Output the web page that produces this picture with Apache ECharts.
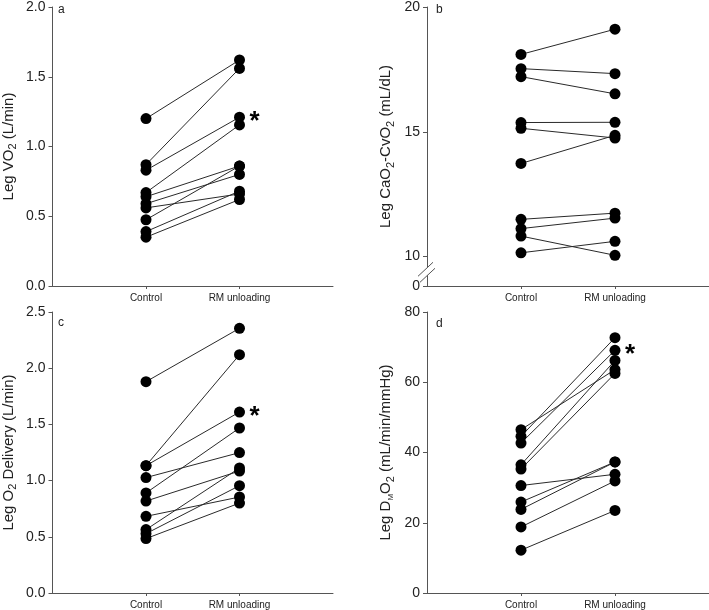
<!DOCTYPE html>
<html>
<head>
<meta charset="utf-8">
<script src="https://cdn.jsdelivr.net/npm/echarts@6/dist/echarts.min.js"></script>
<style>
html,body{margin:0;padding:0;background:#fff;}
#chart{width:709px;height:610px;}
</style>
</head>
<body>
<div id="chart"></div>
<script>
// ---- data ----
const categories = ['Control', 'RM unloading'];
const panelLetters = ['a', 'b', 'c', 'd'];

// a: Leg VO2 (L/min)
const vo2Control   = [1.20, 0.87, 0.83, 0.67, 0.64, 0.59, 0.56, 0.475, 0.39, 0.35];
const vo2Unloading = [1.62, 1.56, 1.21, 1.155, 0.86, 0.80, 0.66, 0.86, 0.68, 0.62];

// b: Leg CaO2-CvO2 (mL/dL)
const avdControl   = [18.10, 17.53, 17.21, 15.37, 15.14, 13.73, 11.49, 11.12, 10.82, 10.15];
const avdUnloading = [19.11, 17.33, 16.52, 15.38, 14.75, 14.86, 11.74, 11.54, 10.05, 10.61];

// c: Leg O2 Delivery (L/min)
const do2Control   = [1.88, 1.133, 1.133, 1.027, 0.89, 0.818, 0.682, 0.564, 0.528, 0.484];
const do2Unloading = [2.355, 2.12, 1.61, 1.249, 1.468, 1.085, 0.854, 1.112, 0.955, 0.80];

// d: Leg DMO2 (mL/min/mmHg)
const dmControl    = [46.5, 44.6, 42.7, 36.5, 35.3, 30.6, 25.9, 23.8, 18.8, 12.2];
const dmUnloading  = [63.6, 72.7, 69.1, 66.2, 62.5, 33.8, 37.3, 37.3, 31.9, 23.5];

// significance markers (RM unloading level)
const starA = 1.21;
const starC = 1.61;
const starD = 69.1;

// y-axis ticks
const ticksA = [0, 0.5, 1.0, 1.5, 2.0];
const ticksB = [10, 15, 20];
const ticksC = [0, 0.5, 1.0, 1.5, 2.0, 2.5];
const ticksD = [0, 20, 40, 60, 80];
const breakMinB = 8.82;  // axis start drawn as "0" after the break

// ---- chart ----
const FONT = '"Liberation Sans", Arial, sans-serif';
const AX = '#555';
const chart = echarts.init(document.getElementById('chart'));

const grids = [
  {left: 50, top: 5, width: 283, height: 281},
  {left: 427, top: 5, width: 282, height: 281},
  {left: 50, top: 312, width: 283, height: 281},
  {left: 427, top: 312, width: 282, height: 281}
];

const xAxes = grids.map((g, i) => ({
  type: 'value', gridIndex: i, min: 0, max: 3, interval: 1,
  splitLine: {show: false},
  axisLine: {show: true, onZero: false, lineStyle: {color: AX, width: 1}},
  axisTick: {show: true, customValues: [1, 2], length: 3, lineStyle: {color: AX}},
  axisLabel: {
    customValues: [1, 2], fontFamily: FONT, fontSize: 10, color: '#222', margin: 7,
    formatter: v => categories[Math.round(v) - 1] || ''
  }
}));

const rich = {
  m: {fontFamily: FONT, fontSize: 15, color: '#222'},
  s: {fontFamily: FONT, fontSize: 11, color: '#222', padding: [9, 0, 0, 0]},
  ss: {fontFamily: FONT, fontSize: 8, color: '#222', padding: [9, 0, 0, 0]}
};
function yAx(i, name, min, max, ticks, fmt, gap) {
  return {
    type: 'value', gridIndex: i, min: min, max: max,
    name: name, nameLocation: 'middle', nameGap: gap, nameRotate: 90, nameMoveOverlap: false,
    nameTextStyle: {rich: rich, fontFamily: FONT, fontSize: 15, color: '#222'},
    splitLine: {show: false},
    axisLine: {show: true, onZero: false, lineStyle: {color: AX, width: 1}},
    axisTick: {show: true, customValues: ticks, length: 4, lineStyle: {color: AX}},
    axisLabel: {customValues: ticks, fontFamily: FONT, fontSize: 14, color: '#222', margin: 7, formatter: fmt}
  };
}
const yAxes = [
  yAx(0, '{m|Leg VO}{s|2}{m| (L/min)}', 0, 2, ticksA, v => v.toFixed(1), 34),
  yAx(1, '{m|Leg CaO}{s|2}{m|-CvO}{s|2}{m| (mL/dL)}', breakMinB, 20, [breakMinB].concat(ticksB),
      v => (v < 9.5 ? '0' : String(Math.round(v))), 31),
  yAx(2, '{m|Leg O}{s|2}{m| Delivery (L/min)}', 0, 2.5, ticksC, v => v.toFixed(1), 34),
  yAx(3, '{m|Leg D}{ss|M}{m|O}{s|2}{m| (mL/min/mmHg)}', 0, 80, ticksD, v => String(v), 31)
];

const panels = [
  [vo2Control, vo2Unloading, starA],
  [avdControl, avdUnloading, null],
  [do2Control, do2Unloading, starC],
  [dmControl, dmUnloading, starD]
];

const series = [];
panels.forEach((p, gi) => {
  const ctrl = p[0], unl = p[1];
  ctrl.forEach((c, k) => {
    series.push({
      type: 'line', xAxisIndex: gi, yAxisIndex: gi, showSymbol: false, silent: true,
      lineStyle: {color: '#2a2a2a', width: 1}, z: 2, animation: false,
      data: [[1, c], [2, unl[k]]]
    });
  });
  const pts = [];
  ctrl.forEach((c, k) => { pts.push([1, c]); pts.push([2, unl[k]]); });
  series.push({
    type: 'scatter', xAxisIndex: gi, yAxisIndex: gi, symbol: 'circle', symbolSize: 11,
    itemStyle: {color: '#000', opacity: 1}, z: 3, animation: false, data: pts
  });
  if (p[2] !== null) {
    series.push({
      type: 'scatter', xAxisIndex: gi, yAxisIndex: gi, symbolSize: 0, z: 4, animation: false,
      itemStyle: {opacity: 1, color: '#000'},
      data: [[2, p[2]]],
      label: {show: true, formatter: '*', position: 'right', distance: 10, offset: [0, 5],
              fontFamily: FONT, fontSize: 26, fontWeight: 'bold', color: '#000', opacity: 1}
    });
  }
});

const letterPos = [[58, 4], [436, 4], [58, 317], [436, 318]];
const titles = panelLetters.map((t, i) => ({
  text: t, left: letterPos[i][0], top: letterPos[i][1], padding: 0,
  textStyle: {fontFamily: FONT, fontSize: 12, fontWeight: 'normal', color: '#222'}
}));

chart.setOption({
  animation: false,
  backgroundColor: '#fff',
  title: titles,
  grid: grids,
  xAxis: xAxes,
  yAxis: yAxes,
  series: series
});

// axis break marks on panel b
const p10 = chart.convertToPixel({gridIndex: 1}, [0, 10]);
const p0 = chart.convertToPixel({gridIndex: 1}, [0, breakMinB]);
const ax = p10[0], yc = (p10[1] + p0[1]) / 2 + 1;
chart.setOption({
  graphic: [
    {type: 'polygon', z: 100, shape: {points: [[ax - 9, yc + 4], [ax + 6, yc - 10], [ax + 8, yc - 4], [ax - 7, yc + 10]]},
     style: {fill: '#fff'}},
    {type: 'line', z: 101, shape: {x1: ax - 9, y1: yc + 4, x2: ax + 6, y2: yc - 10}, style: {stroke: AX, lineWidth: 1}},
    {type: 'line', z: 101, shape: {x1: ax - 7, y1: yc + 10, x2: ax + 8, y2: yc - 4}, style: {stroke: AX, lineWidth: 1}}
  ]
});
</script>
</body>
</html>
